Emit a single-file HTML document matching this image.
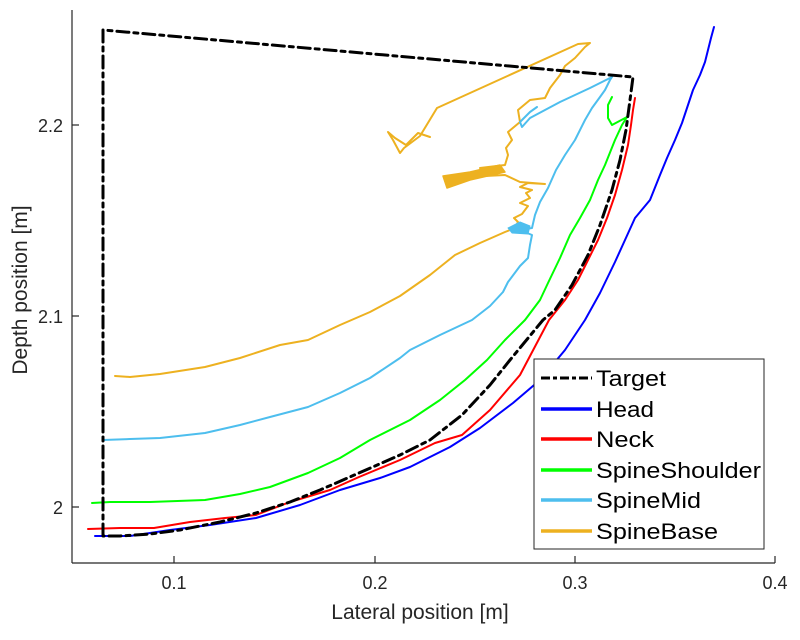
<!DOCTYPE html>
<html><head><meta charset="utf-8"><style>body{margin:0;background:#fff}svg{display:block}</style></head>
<body>
<svg width="800" height="640" viewBox="0 0 800 640" font-family="'Liberation Sans',sans-serif">
<rect width="800" height="640" fill="#fff"/>
<g fill="none" stroke-width="2" stroke-linejoin="round" stroke-linecap="round">
<!-- SpineBase -->
<polyline stroke="#EDB120" points="115,376 130,377 160,374 205,367 240,358 280,345 308,340 340,325 370,312 400,296 430,275 455,255 480,243 505,232 515,228 518,222 514,218 522,214 528,206 520,203 530,198 526,193 532,190 520,187 528,183 545,184 520,182 505,175 485,176 460,178 445,181 470,176 500,171 480,168 505,165 508,155 506,148 512,140 508,132 520,122 518,110 530,100 545,98 550,88 560,75 565,66 575,58 585,47 590,43 578,44 437,108 420,136 404,148 400,153 393,140 388,132 395,138 406,145 418,133 430,137"/>
<polygon fill="#EDB120" stroke="#EDB120" stroke-width="1.5" points="443,176 470,172 500,165 505,172 470,180 447,188"/>
<polygon fill="#4DBEEE" stroke="#4DBEEE" stroke-width="1" points="508,228 520,222 530,226 528,234 512,233"/>
<!-- SpineMid -->
<polyline stroke="#4DBEEE" points="103,440 130,439 160,438 205,433 240,425 270,417 308,407 340,393 370,378 400,358 410,350 440,335 472,320 490,306 503,292 508,282 520,266 528,258 530,245 532,235 520,230 532,228 535,215 540,202 548,188 556,170 565,155 575,140 585,120 592,108 600,97 605,90 610,80 612,77 590,88 560,102 530,118 522,127 520,122 530,112 537,107"/>
<!-- SpineShoulder -->
<polyline stroke="#00ff00" points="92,503 110,502 150,502 205,500 240,494 270,487 308,473 340,458 370,440 410,420 440,400 465,380 487,360 505,340 525,320 540,300 548,283 560,258 570,235 580,218 590,200 598,180 605,165 615,140 622,125 627,117 612,125 608,118 608,105 612,97"/>
<!-- Neck -->
<polyline stroke="#ff0000" points="88,529 120,528 154,528 190,522 225,518 256,515 290,502 330,490 359,477 400,460 435,443 462,435 490,410 520,375 549,320 565,300 578,280 588,260 598,240 607,218 615,195 622,170 628,145 631,125 633,110 635,98"/>
<!-- Head -->
<polyline stroke="#0000ff" points="95,536 130,536 170,530 210,525 256,518 300,505 340,490 380,478 410,467 450,447 480,428 513,403 540,380 565,350 585,320 600,293 615,262 625,240 635,218 650,200 660,175 667,158 675,140 682,123 688,105 693,90 700,75 705,62 708,50 711,38 714,27"/>
<!-- Target -->
<polyline stroke="#000" stroke-width="3" stroke-dasharray="12,5,4,5" points="103,536 103,30 633,77 630,100 626,130 620,160 612,190 600,225 588,255 572,285 555,310 543,320 510,360 490,385 462,415 430,440 400,455 359,473 320,490 290,502 256,513 220,522 180,530 150,534 120,536 103,536"/>
</g>
<!-- axes -->
<g stroke="#262626" stroke-width="1.2" fill="none">
<line x1="72" y1="10" x2="72" y2="563"/>
<line x1="72" y1="563" x2="775" y2="563"/>
<line x1="174" y1="563" x2="174" y2="556"/><line x1="375" y1="563" x2="375" y2="556"/><line x1="575" y1="563" x2="575" y2="556"/><line x1="775" y1="563" x2="775" y2="556"/>
<line x1="72" y1="125" x2="79" y2="125"/><line x1="72" y1="316" x2="79" y2="316"/><line x1="72" y1="507" x2="79" y2="507"/>
</g>
<g font-size="18" fill="#262626">
<text x="174" y="589" text-anchor="middle">0.1</text>
<text x="375" y="589" text-anchor="middle">0.2</text>
<text x="575" y="589" text-anchor="middle">0.3</text>
<text x="775" y="589" text-anchor="middle">0.4</text>
<text x="63" y="132" text-anchor="end">2.2</text>
<text x="63" y="323" text-anchor="end">2.1</text>
<text x="63" y="514" text-anchor="end">2</text>
</g>
<text x="420" y="619" font-size="21" text-anchor="middle" fill="#262626">Lateral position [m]</text>
<text transform="translate(27,290) rotate(-90)" font-size="21" text-anchor="middle" fill="#262626">Depth position [m]</text>
<!-- legend -->
<rect x="534" y="359" width="230" height="190" fill="#fff" stroke="#262626" stroke-width="1"/>
<g stroke-width="3.5">
<line x1="541" y1="378" x2="592" y2="378" stroke="#000" stroke-dasharray="9,3,4,3" stroke-width="3"/>
<line x1="541" y1="409" x2="592" y2="409" stroke="#0000ff"/>
<line x1="541" y1="439" x2="592" y2="439" stroke="#ff0000"/>
<line x1="541" y1="470" x2="592" y2="470" stroke="#00ff00"/>
<line x1="541" y1="500" x2="592" y2="500" stroke="#4DBEEE"/>
<line x1="541" y1="531" x2="592" y2="531" stroke="#EDB120"/>
</g>
<g font-size="22" fill="#000">
<text x="596" y="386" textLength="70" lengthAdjust="spacingAndGlyphs">Target</text>
<text x="596" y="417" textLength="58" lengthAdjust="spacingAndGlyphs">Head</text>
<text x="596" y="447" textLength="58" lengthAdjust="spacingAndGlyphs">Neck</text>
<text x="596" y="478" textLength="165" lengthAdjust="spacingAndGlyphs">SpineShoulder</text>
<text x="596" y="508" textLength="105" lengthAdjust="spacingAndGlyphs">SpineMid</text>
<text x="596" y="539" textLength="122" lengthAdjust="spacingAndGlyphs">SpineBase</text>
</g>
</svg>
</body></html>
